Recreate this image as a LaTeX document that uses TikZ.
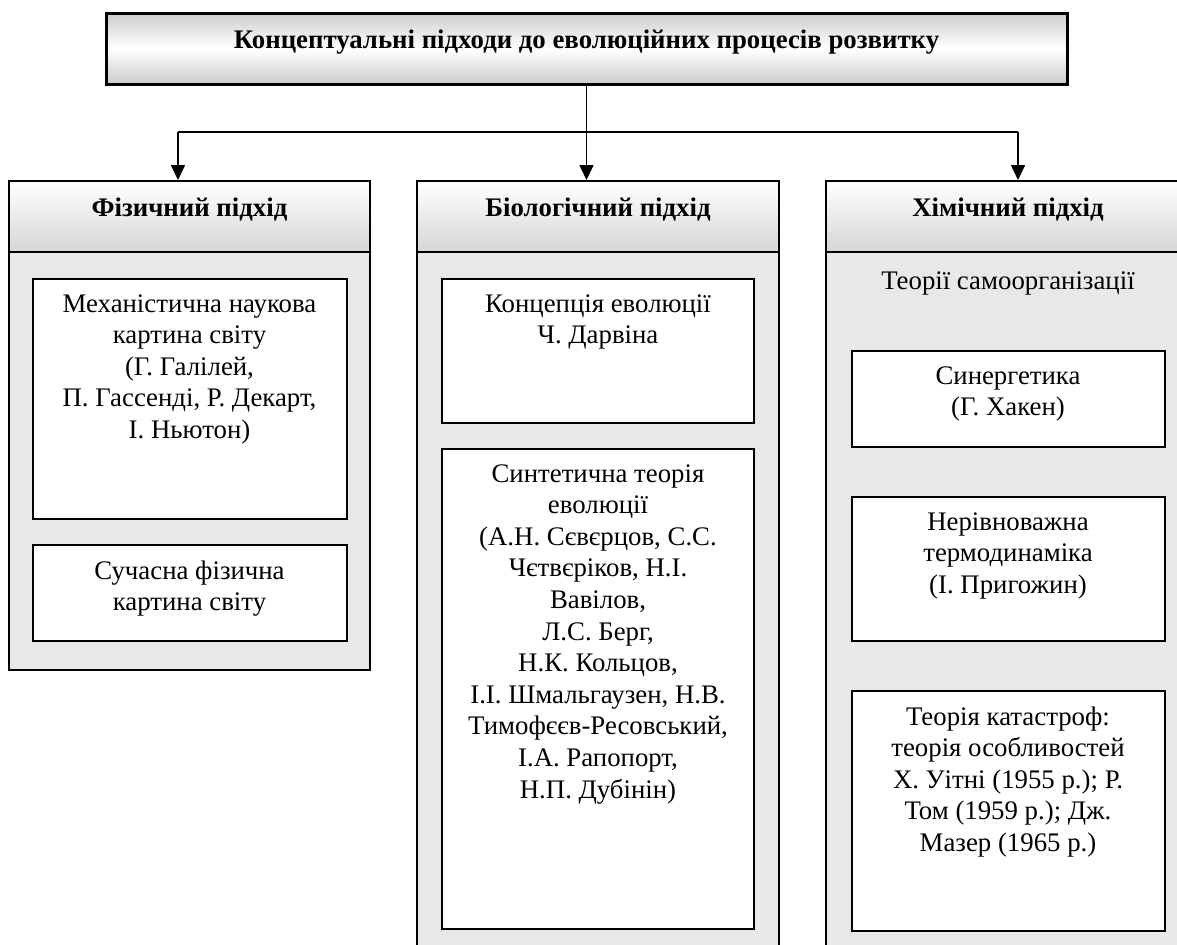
\documentclass[tikz,border=0pt]{standalone}
\usepackage{fontspec}
\setmainfont{Liberation Serif}
\usetikzlibrary{positioning}
\usetikzlibrary{arrows.meta}
\newcommand\boxfont{\fontsize{13.4}{15.8}\selectfont}

\begin{document}
\begin{tikzpicture}[x=0.5pt, y=-0.5pt,
    txt/.style={font=\boxfont, align=center, inner sep=0pt, execute at begin node=\boxfont\strut},
    colbox/.style={draw, fill=black!9, line width=1pt, inner sep=0pt},
    headbox/.style={draw, top color=white, bottom color=black!16, line width=1pt, inner sep=0pt,
        font=\boxfont\bfseries, text height=9pt, text depth=9pt, minimum height=35.5pt},
    inbox/.style={draw, fill=white, line width=1pt, inner sep=0pt},
    arr/.style={-{Triangle[width=7pt,length=7.5pt]}, line width=0.8pt}]
    \useasboundingbox (0,0) rectangle (1177,944);
    \clip (0,0) rectangle (1177,944);

    % top
    \node[headbox, top color=black!20, bottom color=black!20, middle color=white, line width=1.5pt, minimum width=480.5pt] (title) at (586.5,48.5) {Концептуальні підходи до еволюційних процесів розвитку};

    % columns
    \node[colbox, minimum width=180.5pt, minimum height=244.5pt] (colA) at (189.5,425.5) {};
    \node[colbox, minimum width=181pt, minimum height=399.5pt] (colB) at (598,580.5) {};
    \node[colbox, minimum width=182pt, minimum height=399.5pt] (colC) at (1008,580.5) {};

    \node[headbox, minimum width=180.5pt] (hA) at (189.5,216.5) {Фізичний підхід};
    \node[headbox, minimum width=181pt] (hB) at (598,216.5) {Біологічний підхід};
    \node[headbox, minimum width=182pt] (hC) at (1008,216.5) {Хімічний підхід};

    % physical
    \node[inbox, minimum width=157pt, minimum height=120pt, below=12.5pt of hA] (mech) {};
    \node[txt, below=8pt of mech.north] (mechT) {Механістична наукова\\картина світу\\(Г. Галілей,\\П. Гассенді, Р. Декарт,\\І. Ньютон)};
    \node[inbox, minimum width=157pt, minimum height=48pt, below=12pt of mech] (modern) {};
    \node[txt, below=8pt of modern.north] (modernT) {Сучасна фізична\\картина світу};

    % biological
    \node[inbox, minimum width=156pt, minimum height=72pt, below=12.5pt of hB] (darw) {};
    \node[txt, below=8pt of darw.north] (darwT) {Концепція еволюції\\Ч. Дарвіна};
    \node[inbox, minimum width=156pt, minimum height=240pt, below=12pt of darw] (synth) {};
    \node[txt, below=8pt of synth.north] (synthT) {Синтетична теорія\\еволюції\\(А.Н. Сєвєрцов, С.С.\\Чєтвєріков, Н.І.\\Вавілов,\\Л.С. Берг,\\Н.К. Кольцов,\\І.І. Шмальгаузен, Н.В.\\Тимофєєв-Ресовський,\\І.А. Рапопорт,\\Н.П. Дубінін)};

    % chemical
    \node[txt, below=6.8pt of hC.south] (selfT) {Теорії самоорганізації};
    \node[inbox, minimum width=156.5pt, minimum height=48pt, below=48.5pt of hC] (syn) {};
    \node[txt, below=8pt of syn.north] (synT) {Синергетика\\(Г. Хакен)};
    \node[inbox, minimum width=156.5pt, minimum height=72pt, below=24pt of syn] (noneq) {};
    \node[txt, below=8pt of noneq.north] (noneqT) {Нерівноважна\\термодинаміка\\(І. Пригожин)};
    \node[inbox, minimum width=156.5pt, minimum height=120pt, below=24pt of noneq] (catas) {};
    \node[txt, below=8pt of catas.north] (catasT) {Теорія катастроф:\\теорія особливостей\\Х. Уітні (1955 р.); Р.\\Том (1959 р.); Дж.\\Мазер (1965 р.)};

    % arrows
    \coordinate (jA) at (178,132);
    \coordinate (jC) at (1018,132);
    \draw[line width=0.8pt] (jA) -- (jC);
    \draw[arr] (title.south) -- (title.south |- hB.north);
    \draw[arr] (jA) -- (jA |- hA.north);
    \draw[arr] (jC) -- (jC |- hC.north);
\end{tikzpicture}
\end{document}
